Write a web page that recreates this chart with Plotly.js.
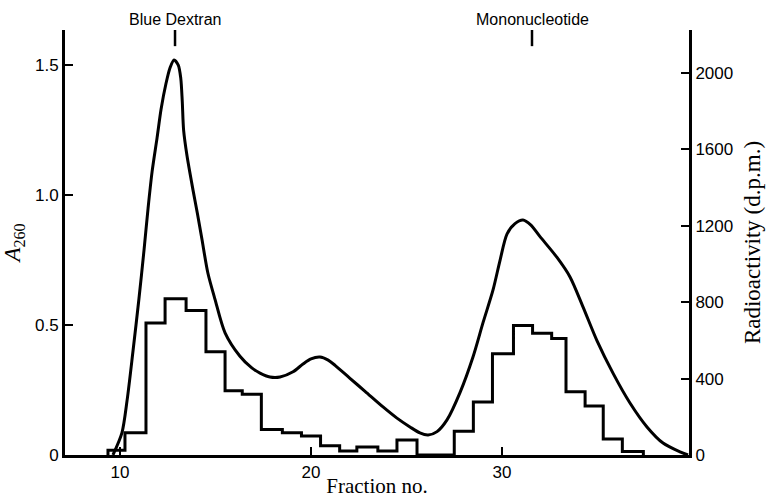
<!DOCTYPE html>
<html><head><meta charset="utf-8">
<script src="https://cdn.plot.ly/plotly-3.0.1.min.js"></script>
<style>html,body{margin:0;padding:0;background:#fff}</style>
</head><body><div id="chart" style="width:766px;height:498px"></div>
<script>
// A260 curve (fraction no., absorbance)
const curveFraction = [9.63, 10.10, 10.37, 10.68, 10.99, 11.26, 11.47, 11.68, 11.94, 12.15, 12.41, 12.62, 12.83, 13.05, 13.18, 13.26, 13.33, 13.51, 13.82, 14.05, 14.29, 14.60, 14.97, 15.50, 16.28, 16.90, 17.33, 17.85, 18.38, 19.06, 19.58, 20.00, 20.47, 20.90, 21.26, 22.04, 22.83, 23.77, 24.50, 25.18, 25.70, 26.13, 26.60, 27.12, 27.80, 28.48, 29.01, 29.53, 29.90, 30.26, 30.68, 31.10, 31.50, 31.99, 32.88, 33.56, 34.24, 34.97, 35.81, 36.70, 37.59, 38.43, 39.32, 39.74];
const a260 = [0, 0.085, 0.21, 0.40, 0.60, 0.79, 0.95, 1.09, 1.22, 1.33, 1.43, 1.49, 1.52, 1.50, 1.45, 1.36, 1.25, 1.15, 1.02, 0.93, 0.83, 0.70, 0.60, 0.47, 0.38, 0.335, 0.315, 0.30, 0.30, 0.32, 0.35, 0.37, 0.377, 0.365, 0.345, 0.295, 0.245, 0.185, 0.142, 0.108, 0.085, 0.077, 0.09, 0.135, 0.24, 0.377, 0.51, 0.635, 0.75, 0.85, 0.89, 0.904, 0.885, 0.84, 0.76, 0.685, 0.57, 0.44, 0.315, 0.2, 0.108, 0.046, 0.012, 0];

// Radioactivity histogram: bin edges (fraction no.) and d.p.m. per bin
const histEdges = [9.37, 10.26, 11.36, 12.36, 13.46, 14.5, 15.5, 16.4, 17.4, 18.5, 19.5, 20.5, 21.5, 22.4, 23.5, 24.5, 25.55, 27.5, 28.5, 29.5, 30.6, 31.6, 32.6, 33.35, 34.35, 35.3, 36.3, 37.4];
const histDpm = [25, 116, 691, 818, 757, 541, 337, 318, 134, 116, 100, 48, 21, 42, 21, 79, 0, 124, 278, 530, 678, 638, 610, 331, 257, 84, 18];

const xTicks = [10, 20, 30];
const leftTicks = [0, 0.5, 1.0, 1.5];
const leftTickText = ['0', '0.5', '1.0', '1.5'];
const rightTicks = [0, 400, 800, 1200, 1600, 2000];
const markerNames = ['Blue Dextran', 'Mononucleotide'];
const markerFractions = [12.88, 31.57];

const stepX = [histEdges[0]], stepY = [0];
for (let i = 0; i < histDpm.length; i++) { stepX.push(histEdges[i]); stepY.push(histDpm[i]); }
stepX.push(histEdges[histEdges.length - 1]); stepY.push(0);

const sans = 'Liberation Sans, Arial, sans-serif';
const serif = 'Liberation Serif, Times New Roman, serif';

const traces = [
  {x: curveFraction, y: a260, type: 'scatter', mode: 'lines', yaxis: 'y',
   line: {color: '#000', width: 3, shape: 'spline', smoothing: 0.8}, hoverinfo: 'skip'},
  {x: stepX, y: stepY, type: 'scatter', mode: 'lines', yaxis: 'y2',
   line: {color: '#000', width: 3, shape: 'hv'}, hoverinfo: 'skip'}
];

const shapes = markerFractions.map(f => ({type: 'line', xref: 'x', yref: 'paper', x0: f, x1: f, y0: 0.962, y1: 1.0, line: {color: '#000', width: 2.5}}));
const annotations = markerNames.map((t, i) => ({text: t, x: markerFractions[i], xref: 'x', y: 1, yref: 'paper', yanchor: 'bottom', xanchor: 'center', yshift: 0, showarrow: false, font: {family: sans, size: 16, color: '#000'}}));

const layout = {
  width: 766, height: 498,
  margin: {l: 65, r: 77, t: 30, b: 43},
  paper_bgcolor: '#fff', plot_bgcolor: '#fff',
  showlegend: false,
  xaxis: {range: [7.12, 39.79], showline: true, linewidth: 3, linecolor: '#000', showgrid: false, zeroline: false,
    tickmode: 'array', tickvals: xTicks, ticks: 'inside', ticklen: 8, tickwidth: 2, tickcolor: '#000',
    tickfont: {family: sans, size: 17, color: '#000'},
    title: {text: 'Fraction no.', font: {family: serif, size: 21, color: '#000'}, standoff: 2}},
  yaxis: {range: [0, 1.635], showline: true, linewidth: 3, linecolor: '#000', showgrid: false, zeroline: false,
    tickmode: 'array', tickvals: leftTicks, ticktext: leftTickText, ticks: 'inside', ticklen: 8, tickwidth: 2, tickcolor: '#000',
    tickfont: {family: sans, size: 17, color: '#000'},
    title: {text: '<i>A</i><sub>260</sub>', font: {family: serif, size: 23, color: '#000'}, standoff: 8}},
  yaxis2: {range: [0, 2225], overlaying: 'y', side: 'right', showline: true, linewidth: 3, linecolor: '#000', showgrid: false, zeroline: false,
    tickmode: 'array', tickvals: rightTicks, ticks: 'inside', ticklen: 8, tickwidth: 2, tickcolor: '#000',
    tickfont: {family: sans, size: 17, color: '#000'},
    title: {text: 'Radioactivity (d.p.m.)', font: {family: serif, size: 23, color: '#000'}, standoff: 12}},
  shapes: shapes,
  annotations: annotations
};

Plotly.newPlot('chart', traces, layout, {staticPlot: true, displayModeBar: false});
</script>
</body></html>
